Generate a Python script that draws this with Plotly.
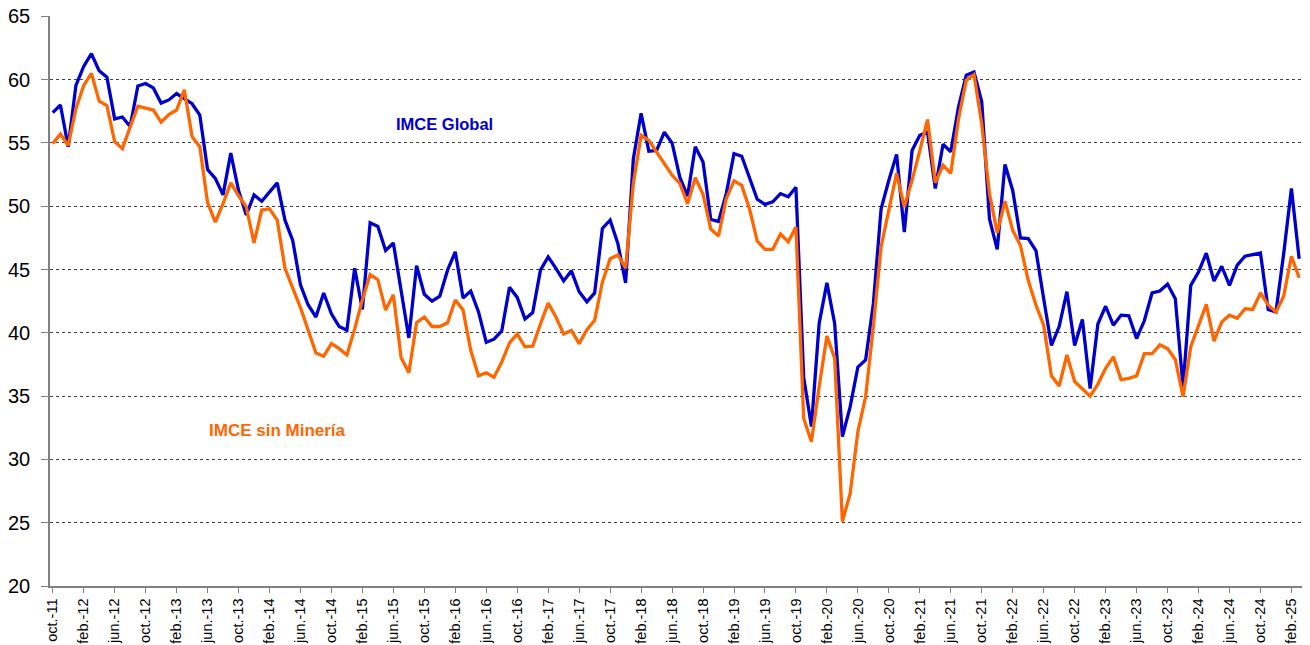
import plotly.graph_objects as go

# Monthly series from oct-2011 to mar-2025
start_year = 2011
start_month = 10
n_points = 162
month_abbr = ["ene.", "feb.", "mar.", "abr.", "may.", "jun.",
              "jul.", "ago.", "sep.", "oct.", "nov.", "dic."]

imce_global = [
    57.4, 58.0, 54.7, 59.55, 61.05, 62.05, 60.7, 60.2, 56.9, 57.05,
    56.3, 59.5, 59.7, 59.35, 58.15, 58.4, 58.9, 58.5, 58.1, 57.2,
    52.9, 52.2, 50.9, 54.2, 51.25, 49.3, 50.9, 50.4, 51.1, 51.85,
    48.9, 47.3, 43.8, 42.2, 41.25, 43.15, 41.5, 40.5, 40.2, 45.1,
    41.85, 48.7, 48.4, 46.5, 47.1, 43.4, 39.6, 45.3, 43.05, 42.5,
    42.9, 44.95, 46.4, 42.75, 43.3, 41.65, 39.25, 39.5, 40.15, 43.6,
    42.8, 41.1, 41.6, 44.95, 46.0, 45.1, 44.1, 44.9, 43.25, 42.45,
    43.15, 48.25, 48.9, 47.05, 43.95, 53.75, 57.35, 54.35, 54.4, 55.85,
    55.0, 52.3, 50.8, 54.7, 53.5, 48.95, 48.8, 51.0, 54.15, 53.95,
    52.2, 50.55, 50.15, 50.35, 51.0, 50.75, 51.5, 36.5, 32.6, 40.75,
    43.95, 40.75, 31.8, 34.15, 37.3, 37.85, 42.3, 49.8, 52.05, 54.1,
    47.95, 54.4, 55.6, 55.85, 51.4, 54.9, 54.3, 57.85, 60.35, 60.6,
    58.25, 49.0, 46.6, 53.3, 51.25, 47.5, 47.45, 46.5, 42.7, 39.0,
    40.5, 43.25, 39.0, 41.05, 35.6, 40.7, 42.1, 40.6, 41.4, 41.35,
    39.55, 40.95, 43.15, 43.3, 43.85, 42.7, 35.75, 43.75, 44.8, 46.3,
    44.1, 45.25, 43.75, 45.35, 46.05, 46.15, 46.3, 41.85, 41.65, 46.25,
    51.4, 45.85,
]

imce_sin_mineria = [
    54.95, 55.7, 54.8, 57.7, 59.55, 60.5, 58.3, 57.95, 55.1, 54.55,
    56.25, 57.9, 57.75, 57.6, 56.65, 57.25, 57.6, 59.2, 55.5, 54.7,
    50.3, 48.75, 50.2, 51.85, 50.85, 49.95, 47.1, 49.7, 49.8, 48.9,
    45.1, 43.6, 42.0, 40.2, 38.4, 38.15, 39.15, 38.75, 38.25, 40.3,
    42.6, 44.6, 44.2, 41.8, 43.0, 38.05, 36.85, 40.8, 41.25, 40.5,
    40.5, 40.8, 42.6, 41.8, 38.6, 36.6, 36.85, 36.5, 37.7, 39.2,
    39.9, 38.9, 38.95, 40.7, 42.35, 41.25, 39.9, 40.2, 39.15, 40.25,
    41.0, 44.0, 45.85, 46.15, 45.1, 51.8, 55.6, 55.2, 54.3, 53.35,
    52.45, 51.8, 50.2, 52.25, 50.95, 48.2, 47.65, 50.6, 52.0, 51.65,
    49.8, 47.25, 46.6, 46.6, 47.8, 47.2, 48.35, 33.25, 31.4, 35.75,
    39.75, 38.0, 25.1, 27.3, 32.2, 34.95, 40.5, 46.8, 49.7, 52.6,
    49.95, 52.05, 54.4, 56.85, 51.85, 53.25, 52.6, 56.9, 59.95, 60.4,
    56.5, 51.0, 47.9, 50.4, 48.1, 46.9, 44.15, 42.2, 40.6, 36.6,
    35.8, 38.25, 36.15, 35.6, 35.0, 35.95, 37.2, 38.1, 36.3, 36.4,
    36.6, 38.35, 38.35, 39.05, 38.75, 37.9, 34.95, 38.9, 40.6, 42.25,
    39.35, 40.85, 41.4, 41.15, 41.9, 41.85, 43.15, 42.2, 41.65, 42.9,
    46.05, 44.35,
]

# Category labels
months = []
for k in range(n_points):
    m = (start_month - 1 + k) % 12
    y = start_year + (start_month - 1 + k) // 12
    months.append(f"{month_abbr[m]}-{y % 100:02d}")
tick_labels = months[::4]

y_ticks = list(range(20, 70, 5))

BLUE = "#0000CC"
ORANGE = "#FF6600"

fig = go.Figure()
fig.add_trace(go.Scatter(x=months, y=imce_global, mode="lines",
                         line=dict(color=BLUE, width=3.3), name="IMCE Global",
                         cliponaxis=False))
fig.add_trace(go.Scatter(x=months, y=imce_sin_mineria, mode="lines",
                         line=dict(color=ORANGE, width=3.3), name="IMCE sin Minería",
                         cliponaxis=False))

fig.add_annotation(x=50.6, y=56.5, text="<b>IMCE Global</b>", showarrow=False,
                   font=dict(family="Liberation Sans, Arial", size=16.5, color=BLUE))
fig.add_annotation(x=29.0, y=32.25, text="<b>IMCE sin Minería</b>", showarrow=False,
                   font=dict(family="Liberation Sans, Arial", size=17, color=ORANGE))

# page body adds an 8px margin, so the figure is sized to fit the 1310x645 window
fig.update_layout(
    width=1302, height=637,
    margin=dict(l=42, r=0, t=8, b=59, autoexpand=False),
    paper_bgcolor="white", plot_bgcolor="white",
    showlegend=False,
    font=dict(family="Liberation Sans, Arial", color="#000000"),
)
fig.update_xaxes(
    type="category",
    range=[-0.35, 162.4],
    automargin=False,
    tickmode="array", tickvals=tick_labels, ticktext=tick_labels,
    tickangle=-90, tickfont=dict(size=14.5),
    ticks="outside", ticklen=5, tickcolor="#808080",
    showline=True, linecolor="#808080", linewidth=1.5,
    showgrid=False,
)
fig.update_yaxes(
    range=[20, 65.03], tickvals=y_ticks,
    automargin=False,
    ticklabeloverflow="allow",
    tickfont=dict(size=20),
    ticks="outside", ticklen=7, tickcolor="#808080",
    ticklabelstandoff=7,
    showline=True, linecolor="#808080", linewidth=1.5,
    showgrid=True, gridcolor="#404040", griddash="dot", gridwidth=1,
    zeroline=False,
)

fig.write_html("out.html")
